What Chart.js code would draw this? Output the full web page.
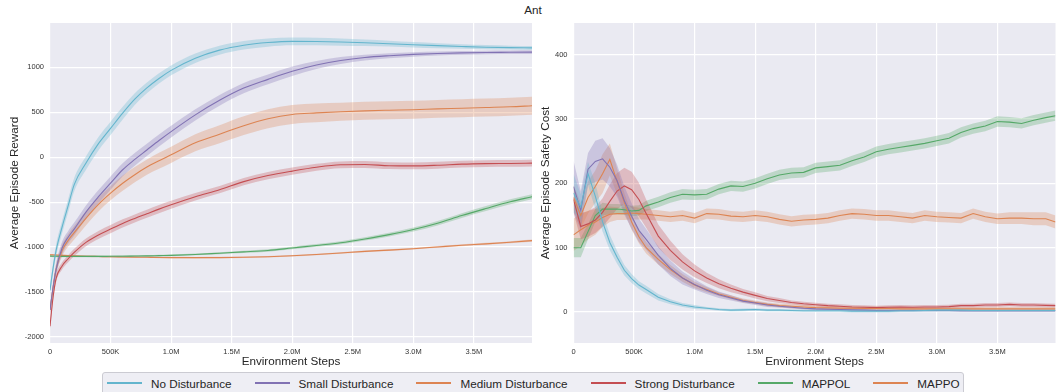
<!DOCTYPE html>
<html>
<head>
<meta charset="utf-8">
<script src="https://cdn.jsdelivr.net/npm/chart.js@4.4.1/dist/chart.umd.min.js"></script>
<style>
  body { margin: 0; background: #fff; font-family: "Liberation Sans", Arial, sans-serif; }
  #wrap { position: relative; width: 1063px; height: 392px; overflow: hidden; }
  canvas { position: absolute; top: 0; }
  #title { position: absolute; left: 0; width: 1066px; top: 3px; text-align: center; font-size: 11.7px; color: #262626; }
  #legend { position: absolute; left: 102px; top: 372px; width: 862px; height: 26px; box-sizing: border-box;
            border: 1px solid #cbcbd2; border-radius: 3px; background: #eeeef4; display: flex; align-items: flex-start;
            padding: 1px 0 0 4px; font-size: 11.7px; color: #262626; }
  .item { display: flex; align-items: center; height: 18px; margin-right: 23px; white-space: nowrap; }
  .item span { display: inline-block; width: 35px; height: 2px; margin-right: 9px; }
</style>
</head>
<body>
<div id="wrap">
  <div id="title">Ant</div>
  <canvas id="left" width="536" height="372" style="left:0"></canvas>
  <canvas id="right" width="527" height="372" style="left:536px"></canvas>
  <div id="legend"></div>
</div>
<script>
// series labels and colours
const LABELS = ['No Disturbance', 'Small Disturbance', 'Medium Disturbance', 'Strong Disturbance', 'MAPPOL', 'MAPPO'];
const COLORS = ['#64B5CD', '#8172B3', '#DD8452', '#C44E52', '#55A868', '#DD8452'];

// tick positions
const X_TICKS = [0, 500e3, 1e6, 1.5e6, 2e6, 2.5e6, 3e6, 3.5e6];
const L_YTICKS = [-2000, -1500, -1000, -500, 0, 500, 1000];
const R_YTICKS = [0, 100, 200, 300, 400];

// left panel: average episode reward
const L_STEPS = [0, 25e3, 50e3, 100e3, 150e3, 200e3, 300e3, 400e3, 500e3, 600e3, 700e3, 800e3, 900e3, 1e6,
  1.2e6, 1.4e6, 1.6e6, 1.8e6, 2e6, 2.2e6, 2.4e6, 2.6e6, 2.8e6, 3e6, 3.2e6, 3.4e6, 3.6e6, 3.8e6, 3.98e6];
const noDistL  = [-1480,-1240,-1040,-777,-540,-305,-60,150,320,490,645,770,875,965,1100,1190,1245,1275,1288,1286,1280,1272,1262,1250,1240,1231,1223,1218,1215];
const noDistLs = [40,55,65,70,72,74,75,75,74,70,65,60,57,55,52,50,48,46,44,42,40,36,32,30,28,25,23,22,22];
const smallL   = [-1700,-1450,-1250,-1010,-890,-800,-605,-440,-289,-140,-25,80,185,284,470,632,768,865,955,1025,1075,1108,1128,1143,1153,1160,1164,1166,1168];
const smallLs  = [40,55,65,70,70,72,74,74,74,72,70,68,66,65,62,60,58,55,52,45,38,32,28,25,22,20,20,20,20];
const medL     = [-1700,-1460,-1250,-1040,-925,-840,-675,-525,-400,-290,-195,-110,-40,26,160,255,350,427,475,492,505,515,522,528,537,544,552,560,572];
const medLs    = [30,45,55,65,70,75,80,80,80,85,85,85,90,90,95,100,105,105,105,105,100,100,100,100,100,100,100,100,100];
const strongL  = [-1880,-1560,-1350,-1210,-1130,-1060,-945,-865,-800,-737,-682,-630,-578,-530,-440,-362,-272,-205,-155,-112,-85,-82,-95,-97,-90,-78,-72,-70,-67];
const strongLs = [30,40,40,40,40,40,42,44,45,45,45,45,45,45,42,40,40,40,40,38,38,38,38,38,38,38,38,38,38];
const mappolL  = [-1100,-1102,-1103,-1104,-1104,-1104,-1104,-1104,-1103,-1102,-1100,-1098,-1095,-1092,-1082,-1068,-1054,-1038,-1010,-982,-952,-910,-862,-805,-735,-650,-572,-497,-440];
const mappolLs = [10,10,10,10,10,10,10,10,10,10,10,10,10,10,10,11,12,13,14,15,16,18,20,22,24,26,28,28,28];
const mappoL   = [-1085,-1087,-1089,-1092,-1095,-1098,-1102,-1105,-1108,-1110,-1112,-1114,-1116,-1117,-1118,-1117,-1114,-1108,-1097,-1082,-1066,-1048,-1034,-1018,-999,-980,-964,-946,-928];
const mappoLs  = [8,8,8,8,8,8,8,8,8,8,8,8,8,8,8,8,8,8,8,9,9,9,10,10,10,11,11,12,12];

// right panel: average episode safety cost
const R_STEPS = [0, 60e3, 120e3, 180e3, 240e3, 300e3, 360e3, 420e3, 480e3, 540e3, 600e3, 700e3, 800e3, 900e3, 1e6,
  1.1e6, 1.2e6, 1.3e6, 1.4e6, 1.5e6, 1.6e6, 1.7e6, 1.8e6, 1.9e6, 2e6, 2.1e6, 2.2e6, 2.3e6, 2.4e6, 2.5e6,
  2.6e6, 2.7e6, 2.8e6, 2.9e6, 3e6, 3.1e6, 3.2e6, 3.3e6, 3.4e6, 3.5e6, 3.6e6, 3.7e6, 3.8e6, 3.9e6, 3.98e6];
const noDistR  = [185,163,215,180,140,108,85,65,52,42, 35,23,16,11,8,6,4,3,3.5,4, 3,3,2.5,2,2,2,2,1.5,1.5,1.5, 1.5,2,2,2.5,3,3,3,2.5,2.5,2.5, 2.5,2.5,2.5,2.5,2.5];
const noDistRs = [30,20,18,20,15,12,10,8,7,6, 6,5,4,3,3,2,2,2,2,2, 2,2,2,2,2,2,2,2,2,2, 2,2,2,2,2,2,2,2,2,2, 2,2,2,2,2];
const smallR   = [195,158,222,234,238,225,204,173,149,127, 113,88,68,53,43,34,27,22,17,14, 11,9,7.5,6,5,4.5,4,3.5,3,2.5, 2.5,2.5,2.5,2.5,2.5,2.5,2,2,2,2, 2,2,2,2,2];
const smallRs  = [40,30,25,32,32,30,25,22,20,18, 16,14,12,10,8,6,5,4,3,3, 3,2,2,2,2,2,2,2,2,2, 2,2,2,2,2,2,2,2,2,2, 2,2,2,2,2];
const medR     = [178,150,178,195,215,237,203,170,140,117, 100,82,66,53,42,35,28,23,18,15, 12,10,9,8,7,6.5,6,6,5.5,5.5, 5.5,5,5,5,5,5,5,5,5,5, 5,5,5,5,5];
const medRs    = [20,20,25,25,30,25,20,15,12,10, 9,8,7,6,5,4,3,3,3,3, 3,3,3,3,3,3,3,3,3,3, 3,3,3,3,3,3,3,3,3,3, 3,3,3,3,3];
const strongR  = [175,133,137,143,155,172,188,196,190,175, 153,118,96,78,64,53,44,37,31,26, 21,18,15,13,11.5,10,9,8,7.5,7, 7.5,8,7.5,8,8,8.5,10,10,11,11, 12,11,11,10.5,10];
const strongRs = [20,20,20,20,22,26,28,28,28,26, 22,18,15,12,10,8,7,6,5,5, 4,4,3,3,3,3,3,3,3,3, 3,3,3,3,3,3,3,3,3,3, 3,3,3,3,3];
const mappolR  = [100,100,125,150,160,160,160,159,157,158, 165,171,178,183,182,183,191,196,195,200, 207,213,216,217,224,226,228,235,241,249, 253,256,259,262,266,270,279,285,289,296, 295,293,298,302,305];
const mappolRs = [15,15,12,10,10,8,8,8,8,8, 8,8,8,8,8,8,8,8,8,8, 8,8,8,8,8,8,8,8,8,8, 8,8,8,8,8,8,8,8,8,8, 8,8,8,8,8];
const mappoR   = [120,128,135,140,147,152,153,153,154,153, 152,150,148,150,146,153,152,149,148,150, 148,144,141,143,144,146,150,153,152,150, 150,148,146,150,148,147,146,153,148,145, 146,146,145,145,140];
const mappoRs  = [25,25,22,20,15,12,10,10,10,9, 8,8,8,8,8,8,8,8,8,8, 8,8,8,8,8,8,8,8,8,8, 8,8,8,8,8,8,8,8,8,8, 9,9,10,10,10];

const FONT = '"Liberation Sans", Arial, sans-serif';

function alpha(hex, a) {
  const n = parseInt(hex.slice(1), 16);
  return `rgba(${n >> 16}, ${(n >> 8) & 255}, ${n & 255}, ${a})`;
}

function pts(steps, vals, sign, spread) {
  return steps.map((x, i) => ({ x: x, y: spread ? vals[i] + sign * spread[i] : vals[i] }));
}

function buildDatasets(steps, series, smooth) {
  const lines = [], bands = [];
  const mode = smooth ? 'monotone' : 'default';
  series.forEach(([mean, spread], k) => {
    const c = COLORS[k];
    lines.push({ label: LABELS[k], data: pts(steps, mean), borderColor: c, borderWidth: 1.1,
      pointRadius: 0, fill: false, cubicInterpolationMode: mode, tension: 0 });
    bands.push({ label: LABELS[k] + ' hi', data: pts(steps, mean, 1, spread), borderWidth: 0,
      pointRadius: 0, fill: '+1', backgroundColor: alpha(c, 0.3), cubicInterpolationMode: mode });
    bands.push({ label: LABELS[k] + ' lo', data: pts(steps, mean, -1, spread), borderWidth: 0,
      pointRadius: 0, fill: false, cubicInterpolationMode: mode });
  });
  return lines.concat(bands);
}

function fmtSteps(v) {
  if (v === 0) return '0';
  if (v < 1e6) return (v / 1e3) + 'K';
  return (v / 1e6).toFixed(1) + 'M';
}

const bgPlugin = {
  id: 'bg',
  beforeDraw(chart) {
    const { ctx, chartArea: a } = chart;
    ctx.save();
    ctx.fillStyle = '#EAEAF2';
    ctx.fillRect(a.left, a.top, a.width, a.height);
    ctx.restore();
  }
};

function makeChart(id, steps, series, smooth, yMin, yMax, yTicks, yTitle, yWidth, titlePad, rightPad) {
  return new Chart(document.getElementById(id), {
    type: 'line',
    data: { datasets: buildDatasets(steps, series, smooth) },
    options: {
      responsive: false,
      animation: false,
      devicePixelRatio: 1,
      layout: { padding: { top: 23, right: rightPad, left: 0, bottom: 0 } },
      plugins: { legend: { display: false }, tooltip: { enabled: false } },
      scales: {
        x: {
          type: 'linear', min: 0, max: 3.98e6,
          grid: { color: '#ffffff', lineWidth: 1.2, drawTicks: false },
          border: { display: false },
          ticks: { autoSkip: false, maxRotation: 0, padding: 4,
                   color: '#333', font: { family: FONT, size: 7.5 }, callback: fmtSteps },
          afterBuildTicks: s => { s.ticks = X_TICKS.map(v => ({ value: v })); },
          title: { display: true, text: 'Environment Steps', color: '#262626',
                   font: { family: FONT, size: 11.7 }, padding: { top: 0, bottom: 3 } },
          afterFit: s => { s.height = 29; }
        },
        y: {
          min: yMin, max: yMax,
          grid: { color: '#ffffff', lineWidth: 1.2, drawTicks: false },
          border: { display: false },
          ticks: { autoSkip: false, padding: 6, color: '#333',
                   font: { family: FONT, size: 7.5 }, callback: v => String(v) },
          afterBuildTicks: s => { s.ticks = yTicks.map(v => ({ value: v })); },
          title: { display: true, text: yTitle, color: '#262626',
                   font: { family: FONT, size: 11.7 }, padding: { top: titlePad, bottom: 0 } },
          afterFit: s => { s.width = yWidth; }
        }
      }
    },
    plugins: [bgPlugin]
  });
}

makeChart('left', L_STEPS,
  [[noDistL, noDistLs], [smallL, smallLs], [medL, medLs], [strongL, strongLs], [mappolL, mappolLs], [mappoL, mappoLs]],
  true, -2067, 1492, L_YTICKS, 'Average Episode Reward', 50, 8, 4);

makeChart('right', R_STEPS,
  [[noDistR, noDistRs], [smallR, smallRs], [medR, medRs], [strongR, strongRs], [mappolR, mappolRs], [mappoR, mappoRs]],
  false, -48, 449, R_YTICKS, 'Average Episode Safety Cost', 37.5, 3, 7.5);

// legend
const legend = document.getElementById('legend');
LABELS.forEach((name, k) => {
  const item = document.createElement('div');
  item.className = 'item';
  item.innerHTML = `<span style="background:${COLORS[k]}"></span>${name}`;
  legend.appendChild(item);
});
</script>
</body>
</html>
